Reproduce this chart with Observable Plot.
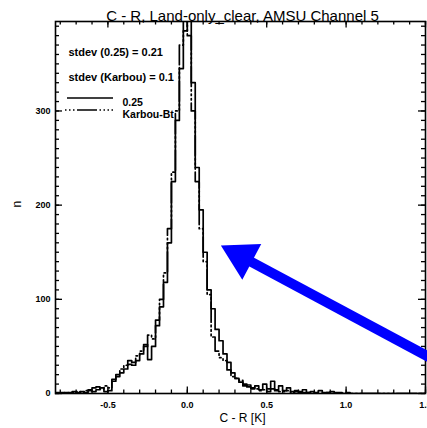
<!DOCTYPE html>
<html><head><meta charset="utf-8">
<script src="https://cdn.jsdelivr.net/npm/d3@7"></script>
<script src="https://cdn.jsdelivr.net/npm/@observablehq/plot@0.6"></script>
<style>body{margin:0;background:#fff} svg{display:block}</style>
</head><body><div id="chart"></div>
<script>
// ---- data ----
const title = "C - R, Land-only_clear, AMSU Channel 5";
const xLabel = "C - R [K]";
const yLabel = "n";
const binStart = -0.825;
const binWidth = 0.025;
const counts025 = [
  1,0,1,0,2,1,2,1,3,2, 4,6,2,3,13,18,22,26,31,30,
  35,42,52,36,50,72,92,118,160,225, 290,345,385,430,330,240,195,150,110,90,
  68,56,42,33,22,16,12,8,9,5, 8,4,10,5,13,4,8,3,6,2,
  3,2,4,1,2,1,3,1,1,2, 1,1,0,1,0,0,0,0,0,0,
  0,0,0,0,0,0,0,0,0,0, 0,0,0
];
const countsKarbou = [
  0,1,0,1,1,2,1,3,4,6, 7,5,8,6,15,20,26,30,35,33,
  40,45,50,62,58,78,100,128,175,235, 300,370,400,380,300,225,175,140,105,60,
  45,38,35,25,18,16,14,10,7,6, 5,3,4,2,5,3,2,2,3,1,
  2,1,1,1,0,1,0,0,1,0, 0,0,0,0,0,0,0,0,0,0,
  0,0,0,0,0,0,0,0,0,0, 0,0,0
];
const xTickLabels = [-0.5, 0.0, 0.5, 1.0, 1.5];
const yTickLabels = [0, 100, 200, 300];
const statLines = ["stdev (0.25) = 0.21", "stdev (Karbou) = 0.1"];
const seriesNames = ["0.25", "Karbou-Bt"];
const arrowTail = [1.53, 38];
const arrowBase = [0.40, 140];
const arrowHead = [0.341, 145.6];

// ---- layout ----
const W = 427, H = 428;
const mT = 21, mB = 35, mL = 55, mR = 2;
const plotH = H - mT - mB, plotW = W - mL - mR;
const karbouDash = "20,3,1.5,3,1.5,3,1.5,3";

function steps(counts) {
  const pts = counts.map((c, i) => ({x: binStart + i * binWidth, y: c}));
  pts.push({x: binStart + counts.length * binWidth, y: counts[counts.length - 1]});
  return pts;
}
const xMinor = d3.range(-8, 16).map(d => d / 10);
const yMinor = d3.range(0, 40).map(d => d * 10);
const yMajor = yTickLabels;
const font = "Liberation Sans, Arial, sans-serif";

const plot = Plot.plot({
  width: W, height: H,
  marginTop: mT, marginBottom: mB, marginLeft: mL, marginRight: mR,
  style: {fontFamily: font, background: "#fff", overflow: "visible"},
  x: {domain: [-0.83, 1.5]},
  y: {domain: [0, 395]},
  marks: [
    Plot.line(steps(counts025), {x: "x", y: "y", curve: "step-after", stroke: "black", strokeWidth: 1.7, clip: true}),
    Plot.line(steps(countsKarbou), {x: "x", y: "y", curve: "step-after", stroke: "black", strokeWidth: 1.7, strokeDasharray: karbouDash, clip: true}),
    Plot.frame({stroke: "black", strokeWidth: 1.6}),
    // inward ticks
    Plot.tickX(xMinor, {x: d => d, insetTop: plotH - 3.5, stroke: "black", strokeWidth: 1.3}),
    Plot.tickX(xMinor, {x: d => d, insetBottom: plotH - 3.5, stroke: "black", strokeWidth: 1.3}),
    Plot.tickX(xTickLabels, {x: d => d, insetTop: plotH - 6.5, stroke: "black", strokeWidth: 1.3}),
    Plot.tickX(xTickLabels, {x: d => d, insetBottom: plotH - 6.5, stroke: "black", strokeWidth: 1.3}),
    Plot.tickY(yMinor, {y: d => d, insetRight: plotW - 4, stroke: "black", strokeWidth: 1.3}),
    Plot.tickY(yMinor, {y: d => d, insetLeft: plotW - 4, stroke: "black", strokeWidth: 1.3}),
    Plot.tickY(yMajor, {y: d => d, insetRight: plotW - 7, stroke: "black", strokeWidth: 1.3}),
    Plot.tickY(yMajor, {y: d => d, insetLeft: plotW - 7, stroke: "black", strokeWidth: 1.3}),
    Plot.axisX({ticks: xTickLabels, tickSize: 0, tickPadding: 8, tickFormat: d => d.toFixed(1), fontSize: 9, fontWeight: "bold", label: null}),
    Plot.axisY({ticks: yTickLabels, tickSize: 0, tickPadding: 5, fontSize: 9, fontWeight: "bold", label: null}),
    Plot.text([title], {text: d => d, frameAnchor: "top", dx: 2, dy: -11, fontSize: 15}),
    Plot.text([xLabel], {text: d => d, frameAnchor: "bottom", dx: 2, dy: 28, fontSize: 12}),
    Plot.text([yLabel], {text: d => d, frameAnchor: "left", dx: -38, rotate: -90, fontSize: 12}),
    Plot.text([statLines[0]], {text: d => d, frameAnchor: "top-left", textAnchor: "start", dx: 13, dy: 27, fontSize: 11, fontWeight: "bold"}),
    Plot.text([statLines[1]], {text: d => d, frameAnchor: "top-left", textAnchor: "start", dx: 13, dy: 52, fontSize: 11, fontWeight: "bold"}),
    Plot.text([seriesNames[0]], {text: d => d, frameAnchor: "top-left", textAnchor: "start", dx: 67, dy: 77, fontSize: 10.5, fontWeight: "bold"}),
    Plot.text([seriesNames[1]], {text: d => d, frameAnchor: "top-left", textAnchor: "start", dx: 67, dy: 89, fontSize: 10.5, fontWeight: "bold"}),
    // blue arrow annotation
    Plot.link([0], {x1: () => arrowBase[0], y1: () => arrowBase[1], x2: () => arrowTail[0], y2: () => arrowTail[1], stroke: "#0000ff", strokeWidth: 10}),
    Plot.dot([arrowHead], {x: d => d[0], y: d => d[1], symbol: "triangle", r: 15, fill: "#0000ff", stroke: "none", rotate: -62})
  ]
});

// legend line samples
const svg = d3.select(plot);
svg.append("line").attr("x1", mL + 12).attr("x2", mL + 58).attr("y1", 98).attr("y2", 98)
  .attr("stroke", "black").attr("stroke-width", 1.6);
svg.append("line").attr("x1", mL + 10).attr("x2", mL + 58).attr("y1", 110).attr("y2", 110)
  .attr("stroke", "black").attr("stroke-width", 1.6).attr("stroke-dasharray", "1.5,2.5,1.5,2.5,1.5,2.5,20,2.5");

document.getElementById("chart").appendChild(plot);
</script>
</body></html>
